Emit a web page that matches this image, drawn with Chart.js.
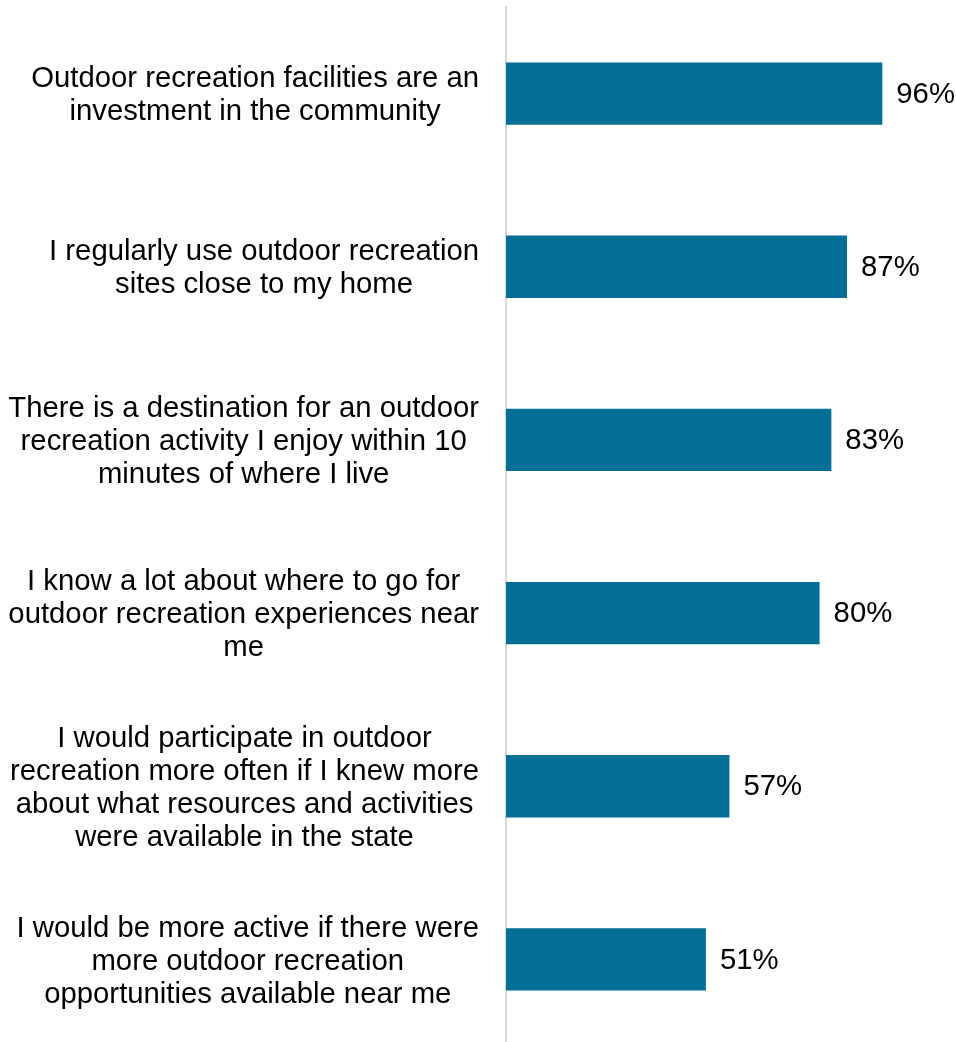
<!DOCTYPE html>
<html>
<head>
<meta charset="utf-8">
<script src="https://cdn.jsdelivr.net/npm/chart.js@4/dist/chart.umd.min.js"></script>
<style>
  html, body { margin: 0; padding: 0; background: #fff; overflow: hidden; }
  #wrap { position: relative; width: 956px; height: 1047px; }
</style>
</head>
<body>
<div id="wrap"><canvas id="agreeChart"></canvas></div>
<script>
const statements = [
    ['Outdoor recreation facilities are an', 'investment in the community'],
    ['I regularly use outdoor recreation', 'sites close to my home'],
    ['There is a destination for an outdoor', 'recreation activity I enjoy within 10', 'minutes of where I live'],
    ['I know a lot about where to go for', 'outdoor recreation experiences near', 'me'],
    ['I would participate in outdoor', 'recreation more often if I knew more', 'about what resources and activities', 'were available in the state'],
    ['I would be more active if there were', 'more outdoor recreation', 'opportunities available near me']
];
const agreePct = [96, 87, 83, 80, 57, 51];

const fontFamily = '"Liberation Sans", Arial, sans-serif';
const fontSize = 29.3;
const lineHeight = 33;
const textColor = '#000000';
const barColor = '#046f94';

// category labels: block right-aligned to the axis, lines centered in the block
const sideLabels = {
    id: 'sideLabels',
    afterDraw(chart) {
        const ctx = chart.ctx;
        const yScale = chart.scales.y;
        const xScale = chart.scales.x;
        ctx.save();
        ctx.font = fontSize + 'px ' + fontFamily;
        ctx.fillStyle = textColor;
        ctx.textBaseline = 'middle';
        ctx.textAlign = 'center';
        const blockRight = chart.chartArea.left - 27;
        statements.forEach((lines, i) => {
            const cy = yScale.getPixelForValue(i) + 2;
            const widest = Math.max(...lines.map(l => ctx.measureText(l).width));
            const cx = blockRight - widest / 2;
            lines.forEach((line, j) => {
                ctx.fillText(line, cx, cy + (j - (lines.length - 1) / 2) * lineHeight);
            });
        });
        // value labels
        ctx.textAlign = 'left';
        agreePct.forEach((v, i) => {
            ctx.fillText(v + '%', xScale.getPixelForValue(v) + 14, yScale.getPixelForValue(i) + 1);
        });
        ctx.restore();
    }
};

new Chart(document.getElementById('agreeChart'), {
    type: 'bar',
    data: {
        labels: statements.map(s => s.join(' ')),
        datasets: [{
            data: agreePct,
            backgroundColor: barColor,
            barPercentage: 0.36,
            categoryPercentage: 1
        }]
    },
    options: {
        indexAxis: 'y',
        responsive: true,
        maintainAspectRatio: false,
        animation: false,
        layout: {
            padding: { left: 498, right: 58, top: 7, bottom: 1 }
        },
        plugins: {
            legend: { display: false },
            tooltip: { enabled: false }
        },
        scales: {
            x: {
                display: false,
                min: 0,
                max: 100
            },
            y: {
                ticks: { display: false },
                grid: { display: false },
                border: { color: '#d9d9d9', width: 2 }
            }
        }
    },
    plugins: [sideLabels]
});
</script>
</body>
</html>
